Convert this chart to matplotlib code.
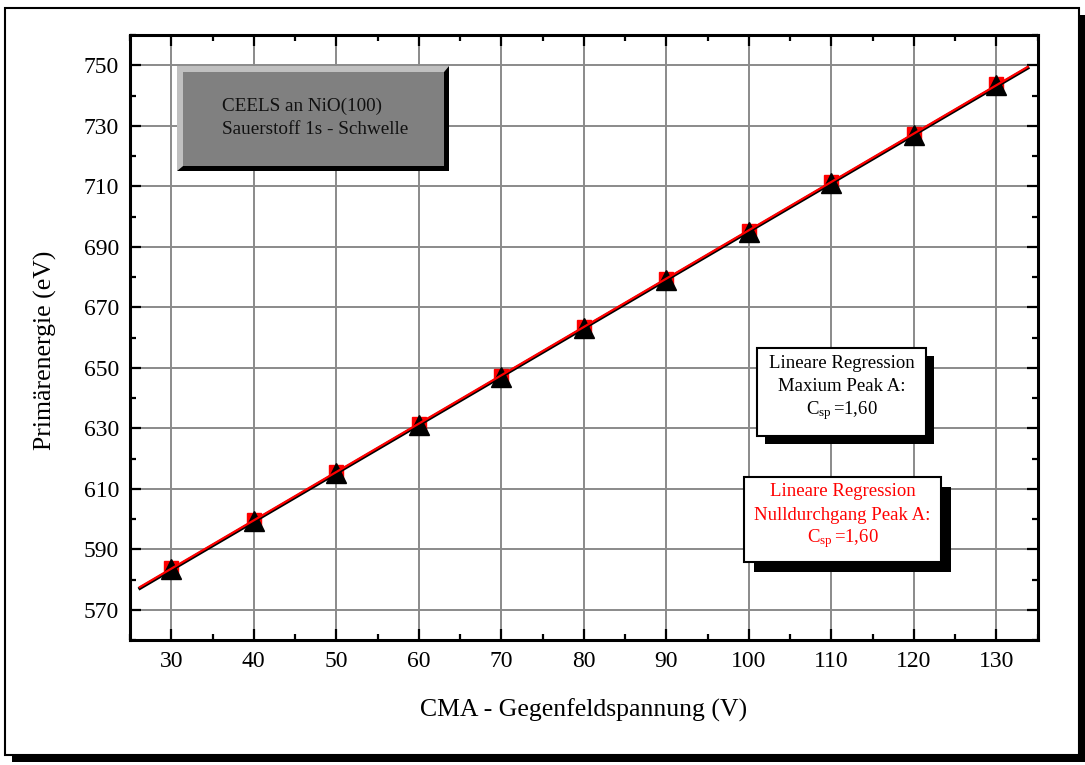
import numpy as np
import matplotlib
matplotlib.use("Agg")
import matplotlib.pyplot as plt
from matplotlib.patches import Rectangle, Polygon

plt.rcParams['font.family'] = ['Liberation Serif', 'DejaVu Serif']
plt.rcParams['mathtext.fontset'] = 'custom'
plt.rcParams['mathtext.rm'] = 'Liberation Serif'
plt.rcParams['mathtext.it'] = 'Liberation Serif:italic'

# --- data ---
voltage = [30, 40, 50, 60, 70, 80, 90, 100, 110, 120, 130]
energy_null = [583.8, 599.6, 615.6, 631.4, 647.4, 663.4, 679.4, 695.2, 711.4, 727.4, 743.8]
energy_max = [583.4, 599.2, 615.2, 631.0, 647.0, 663.0, 679.0, 694.9, 711.0, 727.0, 743.4]
fit_range = [26.2, 133.8]

x_ticks = [30, 40, 50, 60, 70, 80, 90, 100, 110, 120, 130]
y_ticks = [570, 590, 610, 630, 650, 670, 690, 710, 730, 750]

W, H = 1085, 765
fig = plt.figure(figsize=(W / 100, H / 100), dpi=100)


def fx(px):
    return px / W


def fy(py):
    return 1 - py / H


# outer frame with shadow
sh = 7
fig.patches.append(Rectangle((fx(5 + sh), fy(755 + sh)), fx(1074), (755 - 8) / H,
                             transform=fig.transFigure, facecolor='black',
                             edgecolor='none', zorder=0))
fig.patches.append(Rectangle((fx(5), fy(755)), fx(1074), (755 - 8) / H,
                             transform=fig.transFigure, facecolor='white',
                             edgecolor='black', linewidth=1.5, zorder=1))

L, R, T, B = 130, 1037.7, 35, 640
ax = fig.add_axes([fx(L), fy(B), (R - L) / W, (B - T) / H])
ax.set_zorder(2)


def ax_xy(px, py):
    return (px - L) / (R - L), (B - py) / (B - T)


ax.set_xlim(25, 135)
ax.set_ylim(560, 760)
ax.set_xticks(x_ticks)
ax.set_yticks(y_ticks)
ax.set_xticks(np.arange(25, 136, 5), minor=True)
ax.set_yticks(np.arange(560, 761, 10), minor=True)
ax.grid(True, which='major', color='#8a8a8a', linewidth=1.4, zorder=0)
ax.set_axisbelow(True)

for s in ax.spines.values():
    s.set_linewidth(2.2)
ax.tick_params(which='both', direction='in', top=True, right=True,
               width=1.6, labelsize=17, pad=8)
ax.tick_params(which='major', length=8)
ax.tick_params(which='minor', length=4.5)

ax.set_xlabel('CMA - Gegenfeldspannung (V)', fontsize=18.5)
ax.set_ylabel('Primärenergie (eV)', fontsize=18.5)
ax.xaxis.set_label_coords(0.5, -0.097)
ax.yaxis.set_label_coords(-0.080, 0.478)

# data markers
ax.plot(voltage, energy_null, linestyle='none', marker='s', markersize=10.5,
        color='red', zorder=3)
ax.plot(voltage, energy_max, linestyle='none', marker='^', markersize=15,
        color='black', zorder=4)

# linear regressions
xf = np.array(fit_range)
k_max, d_max = np.polyfit(voltage, energy_max, 1)
k_null, d_null = np.polyfit(voltage, energy_null, 1)
ax.plot(xf, k_max * xf + d_max, color='black', linewidth=2.4, zorder=5)
ax.plot(xf, k_null * xf + d_null, color='red', linewidth=1.6, zorder=6)


def rect_px(x0, y0, x1, y1, **kw):
    ax0, ay1 = ax_xy(x0, y0)
    ax1_, ay0 = ax_xy(x1, y1)
    return Rectangle((ax0, ay0), ax1_ - ax0, ay1 - ay0, transform=ax.transAxes,
                     clip_on=False, **kw)


def poly_px(pts, **kw):
    return Polygon([ax_xy(*p) for p in pts], closed=True, transform=ax.transAxes,
                   clip_on=False, **kw)


# title box (bevelled gray button)
bL, bR, bT, bB = 177, 449, 66, 171
il, ir, it, ib = 183, 444, 72, 166
ax.add_patch(poly_px([(bL, bB), (bL, bT), (bR, bT), (ir, it), (il, it), (il, ib)],
                     facecolor='#c0c0c0', edgecolor='none', zorder=7))
ax.add_patch(poly_px([(bL, bB), (bR, bB), (bR, bT), (ir, it), (ir, ib), (il, ib)],
                     facecolor='black', edgecolor='none', zorder=7))
ax.add_patch(rect_px(il, it, ir, ib, facecolor='#808080', edgecolor='none', zorder=7))
for txt, py in [('CEELS an NiO(100)', 106.5), ('Sauerstoff 1s - Schwelle', 130)]:
    x, y = ax_xy(222, py)
    ax.text(x, y, txt, transform=ax.transAxes, fontsize=13.8, color='#111111',
            ha='left', va='center', zorder=8)


def text_box(x0, y0, x1, y1, off, lines, color):
    ax.add_patch(rect_px(x0 + off, y0 + off, x1 + off, y1 + off,
                         facecolor='black', edgecolor='none', zorder=7))
    ax.add_patch(rect_px(x0, y0, x1, y1, facecolor='white', edgecolor='black',
                         linewidth=1.5, zorder=8))
    for txt, py in lines:
        x, y = ax_xy((x0 + x1) / 2, py)
        ax.text(x, y, txt, transform=ax.transAxes, fontsize=13.5, color=color,
                ha='center', va='center', zorder=9)


csp = r'C$_{\mathrm{sp}}\,$=1,60'
text_box(757, 348, 926, 436, 8,
         [('Lineare Regression', 363), ('Maxium Peak A:', 386.5), (csp, 411)], 'black')
text_box(744, 477, 941, 562, 10,
         [('Lineare Regression', 492), ('Nulldurchgang Peak A:', 515), (csp, 539)], 'red')

fig.savefig('out.png', dpi=100)
